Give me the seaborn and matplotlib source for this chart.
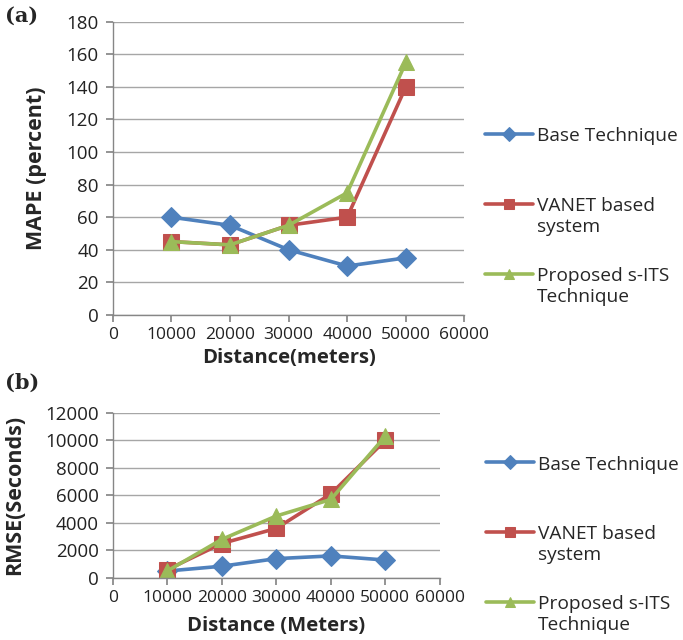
import pandas as pd
import matplotlib.pyplot as plt
import seaborn as sns
from matplotlib.legend_handler import HandlerLine2D

# Data
distance = [10000, 20000, 30000, 40000, 50000]
series = ['Base Technique\n', 'VANET based\nsystem', 'Proposed s-ITS\nTechnique']

mape_base = [60, 55, 40, 30, 35]
mape_vanet = [45, 43, 55, 60, 140]
mape_sits = [45, 43, 55, 75, 155]

rmse_base = [500, 850, 1400, 1600, 1300]
rmse_vanet = [600, 2500, 3600, 6100, 10000]
rmse_sits = [500, 2800, 4500, 5700, 10300]

colors = ['#4F81BD', '#C0504D', '#9BBB59']
markers = ['D', 's', '^']
msizes = [10, 12, 12]


class HandlerFirstLine(HandlerLine2D):
    # put the legend handle level with the first line of a two-line label
    def create_artists(self, legend, orig_handle, xdescent, ydescent,
                       width, height, fontsize, trans):
        arts = super().create_artists(legend, orig_handle, xdescent, ydescent,
                                      width, height, fontsize, trans)
        for a in arts:
            a.set_ydata([y + 0.68 * fontsize for y in a.get_ydata()])
            a.set_markersize(7)
        return arts


sns.set_theme(style='white')
plt.rcParams['font.family'] = ['Open Sans', 'DejaVu Sans']

fig = plt.figure(figsize=(6.83, 6.4), dpi=100)
ax1 = fig.add_axes([0.165, 0.508, 0.515, 0.458])
ax2 = fig.add_axes([0.165, 0.097, 0.479, 0.258])


def draw(ax, values, ymax, ystep, ylabel, xlabel, leg_y, leg_x, xpad):
    for vals, name, c, m, ms in zip(values, series, colors, markers, msizes):
        df = pd.DataFrame({'x': distance, 'y': vals})
        sns.lineplot(data=df, x='x', y='y', ax=ax, color=c, marker=m,
                     markersize=ms, markeredgecolor=c, linewidth=2.6, label=name)
    ax.set_xlim(0, 60000)
    ax.set_ylim(0, ymax)
    ax.set_xticks(range(0, 60001, 10000))
    ax.set_yticks(range(0, ymax + 1, ystep))
    ax.yaxis.grid(True, color='#A6A6A6', linewidth=1)
    ax.set_axisbelow(True)
    for s in ['top', 'right']:
        ax.spines[s].set_visible(False)
    for s in ['left', 'bottom']:
        ax.spines[s].set_color('#868686')
        ax.spines[s].set_linewidth(1)
    ax.tick_params(axis='both', colors='#222222', length=5,
                   direction='out', color='#868686', pad=4)
    ax.tick_params(axis='x', bottom=True, labelsize=12.5)
    ax.tick_params(axis='y', left=True, labelsize=13.5, pad=5)
    ax.set_xlabel(xlabel, fontsize=14.6, fontweight='bold', labelpad=xpad)
    ax.set_ylabel(ylabel, fontsize=15.5, fontweight='bold', labelpad=14)
    handles, labels = ax.get_legend_handles_labels()
    ax.legend(handles, labels, loc='center left', bbox_to_anchor=(leg_x, leg_y),
              frameon=False, fontsize=13.8, labelspacing=1.62, handlelength=2.5,
              handletextpad=0.2, borderaxespad=0.3,
              handler_map={h: HandlerFirstLine() for h in handles})


draw(ax1, [mape_base, mape_vanet, mape_sits], 180, 20, 'MAPE (percent)',
     'Distance(meters)', 0.335, 1.02, 3)
draw(ax2, [rmse_base, rmse_vanet, rmse_sits], 12000, 2000, 'RMSE(Seconds)',
     'Distance (Meters)', 0.2, 1.1, 7)

fig.text(0.008, 0.975, '(a)', fontsize=15, fontweight='bold', family='DejaVu Serif', va='center')
fig.text(0.008, 0.402, '(b)', fontsize=15, fontweight='bold', family='DejaVu Serif', va='center')

plt.savefig('out.png', dpi=100)
plt.close()
